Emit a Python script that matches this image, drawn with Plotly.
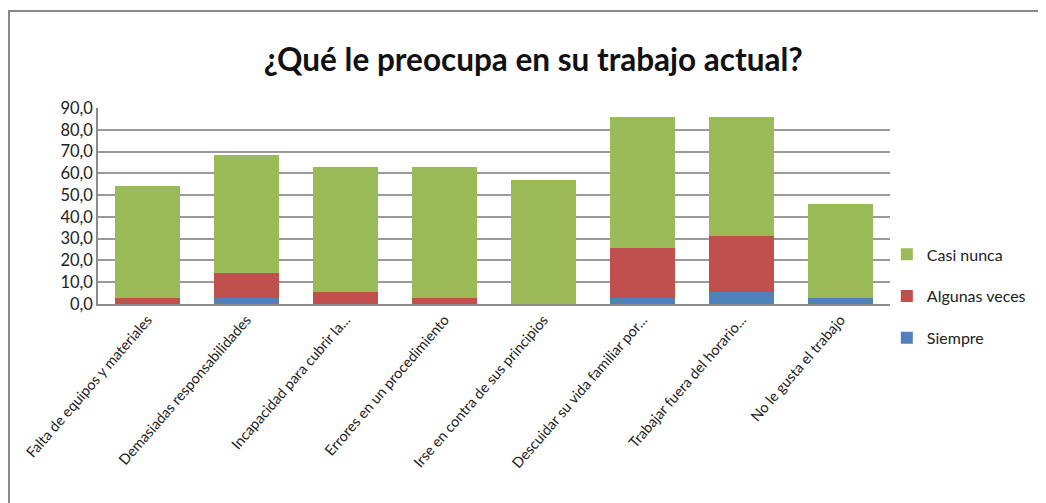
import plotly.graph_objects as go

# Categorías y porcentajes
categorias = [
    "Falta de equipos y materiales",
    "Demasiadas responsabilidades",
    "Incapacidad para cubrir la...",
    "Errores en un procedimiento",
    "Irse en contra de sus principios",
    "Descuidar su vida familiar por...",
    "Trabajar fuera del horario...",
    "No le gusta el trabajo",
]
siempre = [0.0, 2.9, 0.0, 0.0, 0.0, 2.9, 5.7, 2.9]
algunas_veces = [2.9, 11.4, 5.7, 2.9, 0.0, 22.9, 25.7, 0.0]
casi_nunca = [51.4, 54.3, 57.1, 60.0, 57.1, 60.0, 54.3, 42.9]

series = [
    ("Siempre", siempre, "#4F81BD", 3),
    ("Algunas veces", algunas_veces, "#C0504D", 2),
    ("Casi nunca", casi_nunca, "#9BBB59", 1),
]

fig = go.Figure()
for nombre, valores, color, rango in series:
    fig.add_trace(go.Bar(
        x=categorias, y=valores, name=nombre, legendgroup=nombre,
        legendrank=rango,
        marker=dict(color=color, line=dict(width=0)),
    ))

font = "Lato, 'Open Sans', sans-serif"
# la página deja 8px de margen, así que el lienzo es algo más pequeño
fig.update_layout(
    width=1038, height=495,
    barmode="stack", bargap=0.35,
    separators=",.",
    paper_bgcolor="white", plot_bgcolor="white",
    margin=dict(l=90, r=156, t=100, b=199, autoexpand=False),
    font=dict(family=font, color="#222222"),
    title=dict(
        text="<b>¿Qué le preocupa en su trabajo actual?</b>",
        x=0.506, xanchor="center", y=0.895, yanchor="middle",
        font=dict(size=31.5, color="#111111", family=font),
    ),
    legend=dict(
        traceorder="grouped", tracegroupgap=18,
        x=0.996, xanchor="left", y=0.34, yanchor="top",
        font=dict(size=16, family=font),
        bgcolor="rgba(0,0,0,0)",
    ),
    showlegend=True,
)
fig.update_yaxes(
    range=[0, 90], dtick=10, tickformat=".1f",
    showgrid=True, gridcolor="#9a9a9a", gridwidth=1.5,
    showline=True, linecolor="#8c8c8c", linewidth=1.5,
    ticks="", tickfont=dict(size=16.5),
    zeroline=False,
)
fig.update_xaxes(
    tickangle=-49, tickfont=dict(size=14.5),
    showline=True, linecolor="#8c8c8c", linewidth=1.5,
    ticks="",
)
# marco exterior del gráfico
fig.add_shape(
    type="rect", xref="paper", yref="paper",
    x0=-0.1124, x1=1.3, y0=-1.2, y1=1.4949,
    line=dict(color="#888888", width=2), fillcolor="rgba(0,0,0,0)",
    layer="below",
)

fig.write_html("out.html")
